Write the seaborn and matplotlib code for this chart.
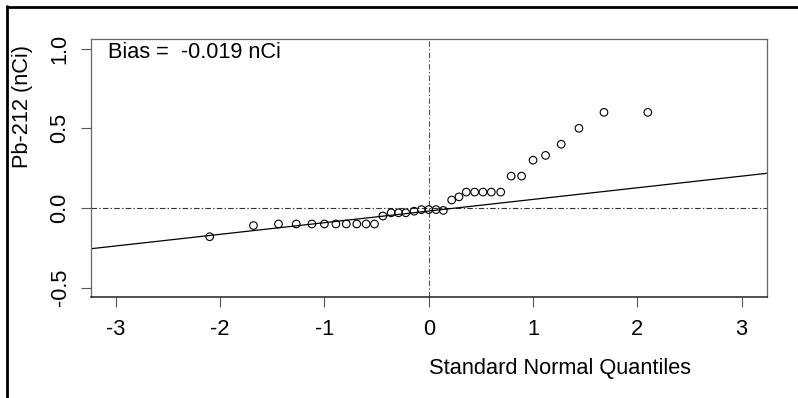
import matplotlib
matplotlib.use("Agg")
import matplotlib.pyplot as plt
from matplotlib.lines import Line2D
import seaborn as sns
import pandas as pd

# Data (normal QQ plot)
quantiles = [-2.10, -1.68, -1.44, -1.27, -1.12, -1.00, -0.89, -0.79, -0.69, -0.60,
             -0.52, -0.44, -0.36, -0.29, -0.22, -0.14, -0.07, 0.00, 0.07, 0.14,
             0.22, 0.29, 0.36, 0.44, 0.52, 0.60, 0.69, 0.79, 0.89, 1.00,
             1.12, 1.27, 1.44, 1.68, 2.10]
pb212 = [-0.18, -0.11, -0.10, -0.10, -0.10, -0.10, -0.10, -0.10, -0.10, -0.10,
         -0.10, -0.05, -0.03, -0.03, -0.03, -0.02, -0.01, -0.01, -0.01, -0.015,
         0.05, 0.07, 0.10, 0.10, 0.10, 0.10, 0.10, 0.20, 0.20, 0.30,
         0.33, 0.40, 0.50, 0.60, 0.60]
fit_intercept = -0.019
fit_slope = 0.073
x_ticks = [-3, -2, -1, 0, 1, 2, 3]
y_ticks = [-0.5, 0.0, 0.5, 1.0]
y_tick_labels = ["-0.5", "0.0", "0.5", "1.0"]
bias_text = "Bias =  -0.019 nCi"
x_label = "Standard Normal Quantiles"
y_label = "Pb-212 (nCi)"

sns.set_style("white")
plt.rcParams["font.family"] = ["Liberation Sans", "DejaVu Sans"]
plt.rcParams["lines.scale_dashes"] = False
plt.rcParams["text.color"] = "black"
plt.rcParams["axes.labelcolor"] = "black"

FS = 15.7

df = pd.DataFrame({"q": quantiles, "v": pb212})

fig = plt.figure(figsize=(7.98, 3.98), dpi=100)
ax = fig.add_axes([0.1137, 0.2530, 0.8471, 0.6490])

# reference lines
dashdot = (0, (4, 1.6, 1, 1.6))
ax.axhline(0, color="#333333", lw=0.8, ls=dashdot, zorder=1)
ax.axvline(0, color="#555555", lw=0.8, ls=dashdot, zorder=1)
# fitted line
ax.axline((0, fit_intercept), slope=fit_slope, color="black", lw=0.9, zorder=2)

sns.scatterplot(data=df, x="q", y="v", ax=ax, marker="o", s=30,
                facecolor="none", edgecolor="black", linewidth=0.8, zorder=3)

ax.set_xlim(-3.24, 3.24)
ax.set_ylim(-0.56, 1.06)
ax.set_xticks(x_ticks)
ax.set_xticklabels([str(t) for t in x_ticks])
ax.set_yticks(y_ticks)
ax.set_yticklabels(y_tick_labels, rotation=90, va="center")
ax.tick_params(axis="both", which="major", length=7, width=0.8,
               color="#555555", labelsize=FS, pad=8.5, labelcolor="black",
               direction="out", bottom=True, left=True)
ax.tick_params(axis="y", pad=7.5)

for side in ["left", "top", "right"]:
    ax.spines[side].set_color("#666666")
    ax.spines[side].set_linewidth(0.9)
ax.spines["bottom"].set_color("#222222")
ax.spines["bottom"].set_linewidth(1.1)

ax.set_xlabel(x_label, fontsize=FS, ha="left", va="center")
ax.xaxis.set_label_coords(0.5, -0.274)
ax.set_ylabel(y_label, fontsize=FS, rotation=90, rotation_mode="default",
              ha="center", va="bottom")
ax.yaxis.set_label_coords(-0.1016, 0.5)

ax.text(0.0256, 0.946, bias_text, transform=ax.transAxes, fontsize=FS,
        ha="left", va="center")

# outer frame lines (top and left)
fig.add_artist(Line2D([7 / 798, 1.0], [1 - 7 / 398, 1 - 7 / 398],
                      transform=fig.transFigure, color="black", lw=2.0))
fig.add_artist(Line2D([7 / 798, 7 / 798], [0.0, 1 - 6 / 398],
                      transform=fig.transFigure, color="black", lw=2.0))

fig.savefig("out.png", dpi=100)
